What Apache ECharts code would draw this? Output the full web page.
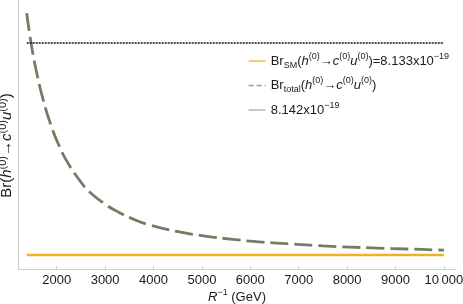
<!DOCTYPE html>
<html><head><meta charset="utf-8">
<script src="https://cdn.jsdelivr.net/npm/echarts@6/dist/echarts.min.js"></script>
<style>html,body{margin:0;padding:0;background:#fff}#c{width:463px;height:304px}</style>
</head><body><div id="c"></div>
<script>
// R^-1 (GeV) values
const rValues = [1380, 1470, 1570, 1710, 1880, 2060, 2230, 2470, 2680, 2990, 3230, 3570, 3920, 4480, 5100, 5640, 6130, 6550, 6960, 7500, 8060, 8620, 9240, 9860, 10000];
// Br_total in units of 1e-19
const brTotal = [8.14327, 8.14200, 8.14090, 8.13967, 8.13852, 8.13759, 8.13691, 8.13618, 8.13567, 8.13517, 8.13487, 8.13453, 8.13427, 8.13400, 8.13379, 8.13366, 8.13356, 8.13350, 8.13345, 8.13338, 8.13333, 8.13329, 8.13325, 8.13321, 8.13320];
const brSM = 8.133;
const brRef = 8.142;
const xRange = [1380, 10000];
const xTicks = [2000, 3000, 4000, 5000, 6000, 7000, 8000, 9000, 10000];

const totalData = rValues.map((r, i) => [r, brTotal[i]]);
const smData = xRange.map(r => [r, brSM]);
const refData = xRange.map(r => [r, brRef]);

const FONT = '"Liberation Sans", Arial, sans-serif';
const TXT = '#1a1a1a';
const base = {fontFamily: FONT, color: TXT};
function mkRich(fs) {
  return {
    t: Object.assign({fontSize: fs, lineHeight: fs + 5}, base),
    i: Object.assign({fontSize: fs, lineHeight: fs + 5, fontStyle: 'italic'}, base),
    s: Object.assign({fontSize: Math.round(fs * 0.72), lineHeight: Math.round(fs * 0.8), verticalAlign: 'top'}, base),
    b: Object.assign({fontSize: Math.round(fs * 0.72), lineHeight: Math.round(fs * 0.72), verticalAlign: 'bottom'}, base)
  };
}
const hcu = '{t|(}{i|h}{s|(0)}{t|→}{i|c}{s|(0)}{i|u}{s|(0)}{t|)}';

const yRich = mkRich(15);
const chart = echarts.init(document.getElementById('c'), null, {renderer: 'canvas'});
chart.setOption({
  animation: false,
  grid: {left: 18, right: 7, top: 0, bottom: 35, outerBoundsMode: 'none', containLabel: false},
  xAxis: {
    type: 'value', min: 1200, max: 10250,
    axisLine: {lineStyle: {color: '#cfcfcf', width: 1}},
    axisTick: {show: true, inside: true, length: 3, customValues: xTicks, lineStyle: {color: '#cfcfcf'}},
    splitLine: {show: false},
    axisLabel: {customValues: xTicks, fontFamily: FONT, fontSize: 13, color: TXT, margin: 5,
      formatter: v => v >= 10000 ? String(v).replace(/(\d+)(\d{3})$/, '$1\u2009$2') : String(v)},
    name: '{i|R}{s|−1}{t| (GeV)}', nameLocation: 'middle', nameGap: 19, nameMoveOverlap: false,
    nameTextStyle: {rich: mkRich(13)}
  },
  yAxis: {
    type: 'value', min: 8.1324, max: 8.14383,
    axisLine: {show: true, lineStyle: {color: '#cfcfcf', width: 1}},
    axisTick: {show: false}, axisLabel: {show: false}, splitLine: {show: false},
    name: '{t|Br}' + hcu, nameLocation: 'middle', nameGap: 1, nameRotate: 90, nameMoveOverlap: false,
    nameTextStyle: {rich: yRich, padding: [0, 22, 0, 0]}
  },
  legend: {
    orient: 'vertical', left: 243, top: 47, itemGap: 6.5, itemWidth: 17, itemHeight: 14,
    textStyle: {rich: mkRich(13)},
    data: [
      {name: 'sm', lineStyle: {color: '#e9b321', width: 1.3}, itemStyle: {color: 'rgba(0,0,0,0)'}},
      {name: 'total', lineStyle: {color: '#9a9a9a', width: 1.3, type: [5, 3]}, itemStyle: {color: 'rgba(0,0,0,0)'}},
      {name: 'ref', lineStyle: {color: '#ababab', width: 1.3, type: 'solid'}, itemStyle: {color: 'rgba(0,0,0,0)'}}
    ],
    formatter: n => {
      if (n === 'sm') return '{t|Br}{b|SM}' + hcu + '{t|=8.133x10}{s|−19}';
      if (n === 'total') return '{t|Br}{b|total}' + hcu;
      return '{t|8.142x10}{s|−19}';
    }
  },
  series: [
    {name: 'sm', type: 'line', data: smData, symbol: 'none', z: 3,
      lineStyle: {color: '#eeb41f', width: 2.5}, itemStyle: {color: '#eeb41f'}},
    {name: 'total', type: 'line', data: totalData, symbol: 'none', smooth: 0.5, z: 2,
      lineStyle: {color: '#6f7f63', width: 2.8, type: [18, 6]}, itemStyle: {color: '#6f7f63'}},
    {name: 'ref', type: 'line', data: refData, symbol: 'none', z: 4,
      lineStyle: {color: '#111', width: 1.5, type: [2, 1]}, itemStyle: {color: '#111'}}
  ]
});
</script></body></html>
